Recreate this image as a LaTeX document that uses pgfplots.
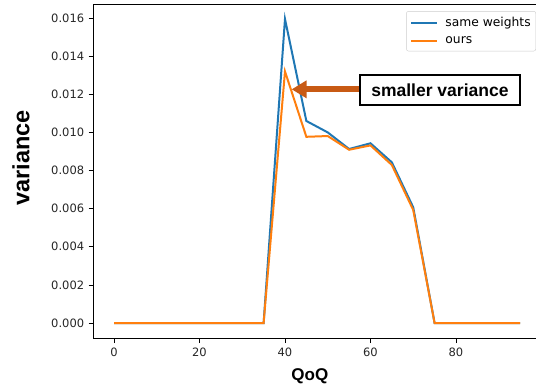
\documentclass[border=0pt]{standalone}
\usepackage{fontspec}
\setmainfont{DejaVu Sans}
\newfontfamily\arialfont{Liberation Sans}
\usepackage{pgfplots}
\pgfplotsset{compat=1.18}
\usetikzlibrary{arrows.meta}
\definecolor{tabblue}{HTML}{1F77B4}
\definecolor{taborange}{HTML}{FF7F0E}
\definecolor{arrowc}{RGB}{200,90,20}
\begin{document}
\begin{tikzpicture}[x=1pt,y=1pt]
\useasboundingbox (0,0) rectangle (536,390);
\begin{axis}[
  at={(93.7pt,51.8pt)}, anchor=south west,
  scale only axis, width=446.7pt, height=333.4pt,
  xmin=-4.75, xmax=99.75, ymin=-0.000795, ymax=0.016695,
  xtick={0,20,40,60,80},
  ytick={0,0.002,0.004,0.006,0.008,0.010,0.012,0.014,0.016},
  scaled y ticks=false,
  yticklabel style={/pgf/number format/fixed, /pgf/number format/fixed zerofill, /pgf/number format/precision=3},
  /pgf/number format/assume math mode=true,
  tick label style={font=\fontsize{11.5}{13}\selectfont, black!85},
  xtick pos=lower, ytick pos=left,
  tick align=outside, major tick length=5pt,
  every tick/.style={black, line width=0.8pt},
  axis line style={black, line width=1pt},
  xticklabel style={yshift=-1pt},
  yticklabel style={xshift=-1pt},
  xlabel={\arialfont\bfseries QoQ},
  ylabel={\arialfont\bfseries variance},
  xlabel style={font=\fontsize{17}{20}\selectfont, anchor=center, at={(axis description cs:0.484,-0.113)}},
  ylabel style={font=\fontsize{23.5}{28}\selectfont, anchor=center, rotate=0, at={(axis description cs:-0.163,0.541)}},
  legend style={at={(axis description cs:0.99,0.981)}, anchor=north east,
    draw=black!20, rounded corners=2pt, fill=white,
    font=\fontsize{12.3}{14}\selectfont, row sep=6.5pt, inner xsep=4pt, inner ysep=5pt,
    nodes={inner sep=1pt},
    /tikz/every even column/.append style={column sep=0pt}},
  legend cell align=left,
  legend image code/.code={\draw[#1, line width=2pt] (0pt,0pt) -- (26pt,0pt);},
]
\addplot[tabblue, line width=2pt] coordinates {
(0,0) (5,0) (10,0) (15,0) (20,0) (25,0) (30,0) (35,0)
(40,0.01595) (45,0.0106) (50,0.0100) (55,0.00913) (60,0.00943) (65,0.00843) (70,0.00607)
(75,0) (80,0) (85,0) (90,0) (95,0)};
\addlegendentry{\hspace{6pt}same weights}
\addplot[taborange, line width=2pt] coordinates {
(0,0) (5,0) (10,0) (15,0) (20,0) (25,0) (30,0) (35,0)
(40,0.0132) (45,0.00977) (50,0.00981) (55,0.00909) (60,0.00932) (65,0.00829) (70,0.00593)
(75,0) (80,0) (85,0) (90,0) (95,0)};
\addlegendentry{\hspace{6pt}ours}
\draw[arrowc, line width=6pt, -{Triangle[width=17pt,length=15pt]}] (axis cs:57.4,0.01226) -- (axis cs:41.56,0.01226);
\node[draw=black, line width=1.8pt, fill=white, minimum width=160pt, minimum height=30pt, inner sep=0pt,
  font=\arialfont\bfseries\fontsize{17.5}{20}\selectfont] at (axis cs:76.25,0.01221) {smaller variance};
\end{axis}
\end{tikzpicture}
\end{document}
